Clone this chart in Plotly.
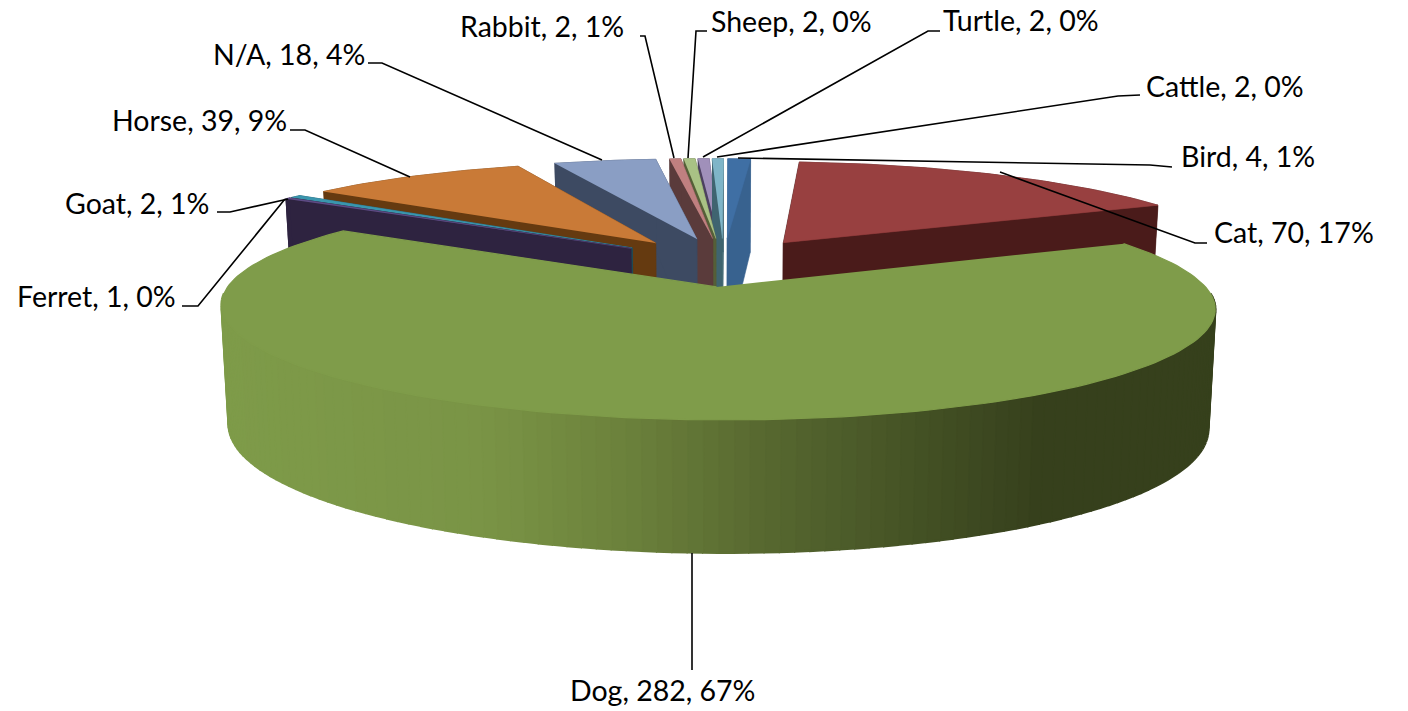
import numpy as np
import plotly.graph_objects as go

# Pet types counted in the survey, clockwise from the top of the pie
categories = ["Bird", "Cat", "Dog", "Ferret", "Goat", "Horse", "N/A", "Rabbit", "Sheep", "Turtle", "Cattle"]
counts = [4, 70, 282, 1, 2, 39, 18, 2, 2, 2, 2]
percents = [1, 17, 67, 0, 1, 9, 4, 1, 0, 0, 0]

top_colors = ["#3F6FA4", "#984040", "#7F9C4A", "#5E4B85", "#3A96AE", "#C97A37", "#8A9EC4", "#C08080", "#A9C285", "#A090BA", "#7FB5C8"]
wall_colors = ["#38628F", "#4A1B1A", "#333F1C", "#2E2340", "#1D4B58", "#653A10", "#3D4A62", "#5A3B3B", "#555F38", "#4C4060", "#3F6470"]

# Label anchors (left edge, vertical centre) and leader-line paths, in page pixels
label_x = [1179, 1212, 568, 15, 63, 110, 211, 458, 709, 941, 1144]
label_y = [156, 232, 690, 296, 203, 120, 54, 26, 21, 20, 86]
leaders = [
    [(1172, 167), (1150, 165), (738, 158)],
    [(1207, 243), (1195, 243), (1000, 172)],
    [(692, 670), (692, 553)],
    [(182, 306), (198, 306), (285, 199)],
    [(217, 212), (230, 212), (288, 199)],
    [(290, 130), (305, 130), (410, 177)],
    [(368, 63), (382, 63), (602, 160)],
    [(640, 36), (645, 36), (674, 158)],
    [(707, 31), (696, 31), (688, 158)],
    [(940, 31), (928, 31), (703, 157)],
    [(1140, 95), (1118, 96), (717, 157)],
]

# Camera and extrusion parameters of the tilted pie
CX, CY = 723.0, 261.8
A, B = 469.0, 100.7
K = 0.17
SHEAR = -12.0
EXPLODE = 0.24
START_DEG = 2.0


def project(X, Y):
    s = 1.0 / (1.0 + K * Y)
    return CX + A * X * s + SHEAR * Y, CY - B * Y * s


def drop(x, y, Y):
    # Bottom-face point under a top-face point
    return CX + (x - CX) * 0.986, y + 113.0 - 16.0 * Y


def polygon(xs, ys, color, width=0.6):
    return go.Scatter(x=list(xs), y=list(ys), mode="lines", fill="toself", fillcolor=color,
                      line=dict(color=color, width=width), hoverinfo="skip", showlegend=False)


def dog_side_color(x):
    stops = [222, 480, 620, 760, 900, 1040, 1215]
    r = np.interp(x, stops, [126, 122, 108, 88, 70, 54, 54])
    g = np.interp(x, stops, [155, 148, 130, 105, 84, 64, 64])
    b = np.interp(x, stops, [73, 70, 60, 48, 38, 28, 28])
    return f"rgb({r:.0f},{g:.0f},{b:.0f})"


fracs = np.array(counts) / sum(counts)
edges = np.radians(START_DEG + 360 * np.concatenate([[0], np.cumsum(fracs)]))
mids = (edges[:-1] + edges[1:]) / 2

fig = go.Figure()

# Paint slices from the back of the pie to the front
for i in np.argsort(-np.cos(mids)):
    is_dog = categories[i] == "Dog"
    ox, oy = EXPLODE * np.sin(mids[i]), EXPLODE * np.cos(mids[i])
    n = max(4, int(np.degrees(edges[i + 1] - edges[i]) / 1.5))
    th = np.linspace(edges[i], edges[i + 1], n + 1)
    wx, wy = ox + np.sin(th), oy + np.cos(th)
    ax, ay = project(np.array([ox]), np.array([oy]))
    px, py = project(wx, wy)
    bx, by = drop(px, py, wy)
    abx, aby = drop(ax, ay, np.array([oy]))

    # Outer rim; the large slice gets a shaded strip along its visible front
    if is_dog:
        for j in range(n):
            if np.cos((th[j] + th[j + 1]) / 2) > -0.05:
                continue
            fig.add_trace(polygon([px[j], px[j + 1], bx[j + 1], bx[j]], [py[j], py[j + 1], by[j + 1], by[j]],
                                  dog_side_color((px[j] + px[j + 1]) / 2), width=2.4))
    else:
        fig.add_trace(polygon(list(px) + list(bx[::-1]), list(py) + list(by[::-1]), wall_colors[i]))
        # The two straight cut faces
        fig.add_trace(polygon([px[0], ax[0], abx[0], bx[0]], [py[0], ay[0], aby[0], by[0]], wall_colors[i]))
        fig.add_trace(polygon([px[-1], ax[0], abx[0], bx[-1]], [py[-1], ay[0], aby[0], by[-1]], wall_colors[i]))

    # Top face
    fig.add_trace(polygon(list(px) + [ax[0]], list(py) + [ay[0]], top_colors[i], width=1.2 if is_dog else 0.6))

# Leader lines
for path in leaders:
    fig.add_trace(go.Scatter(x=[p[0] for p in path], y=[p[1] for p in path], mode="lines",
                             line=dict(color="black", width=1.6), hoverinfo="skip", showlegend=False))

# Data labels
for name, count, pct, lx, ly in zip(categories, counts, percents, label_x, label_y):
    fig.add_annotation(x=lx, y=ly, text=f"{name}, {count}, {pct}%", showarrow=False, xanchor="left", yanchor="middle",
                       font=dict(family="Lato", size=28.5, color="black"))

fig.update_layout(
    width=1408, height=711, margin=dict(l=0, r=0, t=0, b=0),
    paper_bgcolor="white", plot_bgcolor="white", showlegend=False,
    xaxis=dict(range=[0, 1408], visible=False, fixedrange=True),
    yaxis=dict(range=[711, 0], visible=False, fixedrange=True),
)

fig.write_html("out.html")
